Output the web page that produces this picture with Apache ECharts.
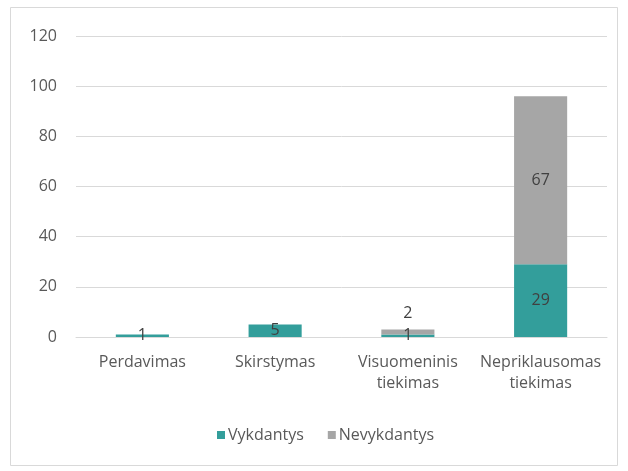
<!DOCTYPE html>
<html>
<head>
<meta charset="utf-8">
<script src="https://cdn.jsdelivr.net/npm/echarts@6/dist/echarts.min.js"></script>
<style>
html,body{margin:0;padding:0;background:#fff;}
#chart{width:628px;height:471px;}
</style>
</head>
<body>
<div id="chart"></div>
<script>
var categories = ['Perdavimas', 'Skirstymas', 'Visuomeninis\ntiekimas', 'Nepriklausomas\ntiekimas'];
var vykdantys = [1, 5, 1, 29];
var nevykdantys = [0, 0, 2, 67];
var yTicks = [0, 20, 40, 60, 80, 100, 120];

var myChart = echarts.init(document.getElementById('chart'));

var txt = '#595959';
var font = '"Open Sans", "Noto Sans", sans-serif';

var option = {
	backgroundColor: '#fff',
	animation: false,
	textStyle: { fontFamily: font },
	graphic: [{
		type: 'rect',
		shape: { x: 10.5, y: 7.5, width: 607, height: 458 },
		style: { fill: 'none', stroke: '#d9d9d9', lineWidth: 1 },
		silent: true
	}],
	grid: { left: 76, right: 21, top: 36, bottom: 134 },
	legend: {
		left: 212,
		top: 422,
		itemWidth: 8,
		itemHeight: 8,
		itemGap: 24,
		icon: 'rect',
		textStyle: { color: txt, fontSize: 16, fontFamily: font, padding: [0, 0, 0, -2] },
		data: ['Vykdantys', 'Nevykdantys']
	},
	xAxis: {
		type: 'category',
		data: categories,
		axisLine: { show: true, lineStyle: { color: '#d9d9d9', width: 1 } },
		axisTick: { show: false },
		axisLabel: { color: txt, fontSize: 16, lineHeight: 21, margin: 15, interval: 0 }
	},
	yAxis: {
		type: 'value',
		min: yTicks[0],
		max: yTicks[yTicks.length - 1],
		interval: 20,
		axisLine: { show: false },
		axisTick: { show: false },
		axisLabel: { color: txt, fontSize: 16, margin: 19 },
		splitLine: { lineStyle: { color: '#d9d9d9', width: 1 } }
	},
	series: [{
		name: 'Vykdantys',
		type: 'bar',
		stack: 'all',
		barWidth: '40%',
		itemStyle: { color: '#339e9b' },
		label: {
			show: true,
			position: 'inside',
			color: '#404040',
			fontSize: 16,
			formatter: function (p) { return p.value > 0 ? p.value : ''; }
		},
		data: vykdantys
	}, {
		name: 'Nevykdantys',
		type: 'bar',
		stack: 'all',
		barWidth: '40%',
		itemStyle: { color: '#a6a6a6' },
		label: {
			show: true,
			position: 'inside',
			color: '#404040',
			fontSize: 16,
			formatter: function (p) { return p.value > 0 ? p.value : ''; }
		},
		data: nevykdantys.map(function (v, i) {
			if (i === 2) {
				return { value: v, label: { position: 'top', distance: 8 } };
			}
			return v;
		})
	}]
};

myChart.setOption(option);
</script>
</body>
</html>
